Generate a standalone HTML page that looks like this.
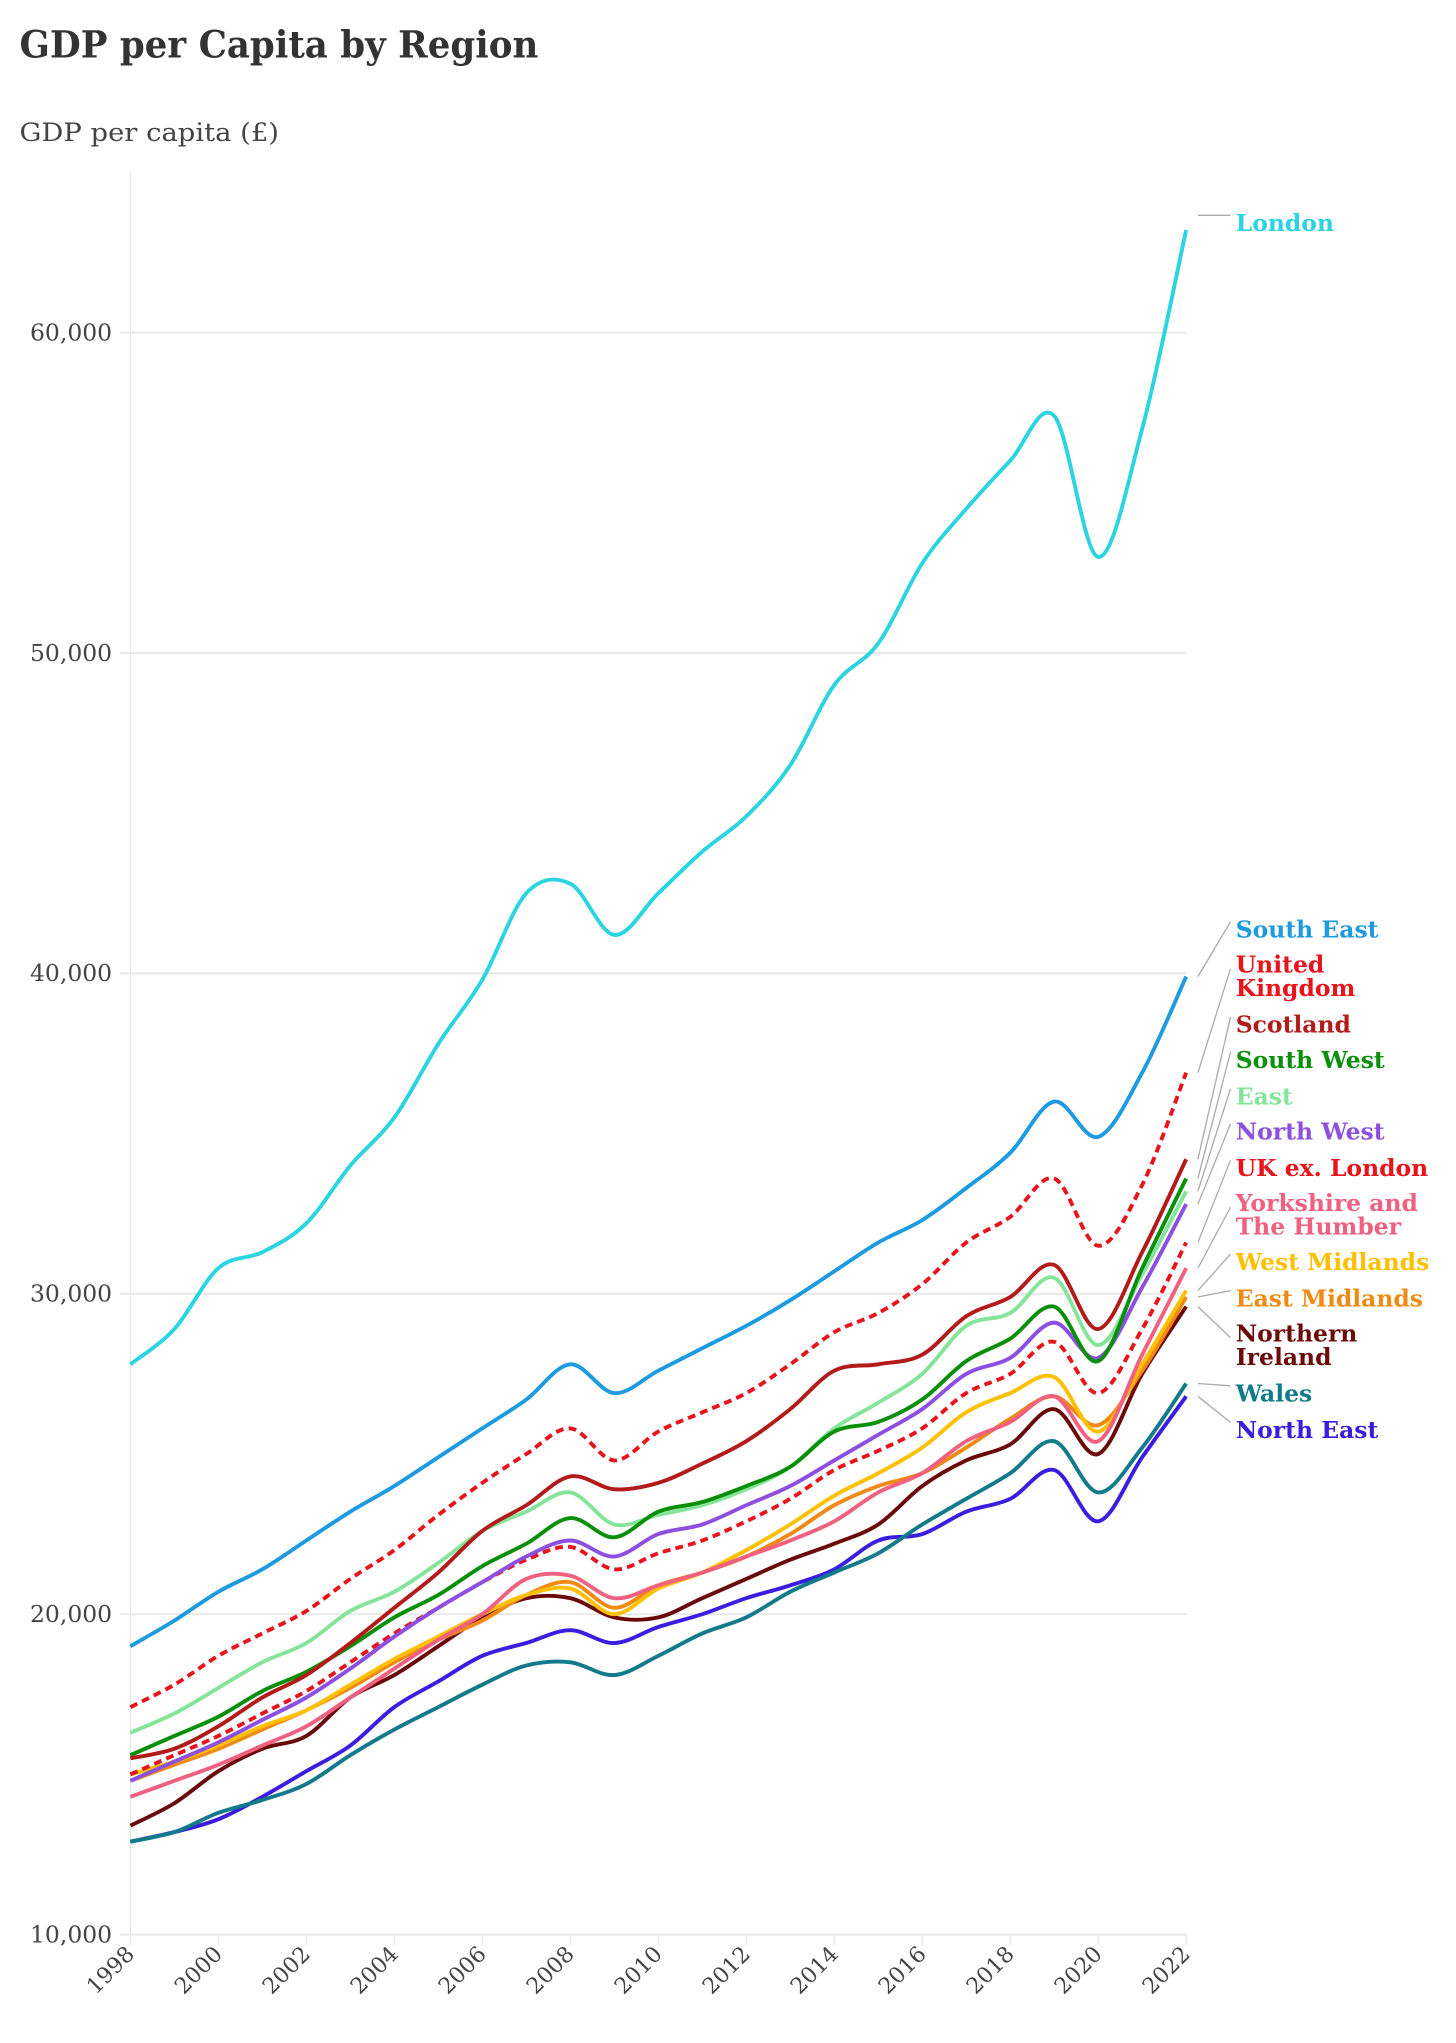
<!DOCTYPE html>
<html><head><meta charset="utf-8"><style>
html,body{margin:0;padding:0;background:#fff;}
svg{display:block;}
text{font-family:"DejaVu Serif","Liberation Serif",serif;}
</style></head><body>
<svg id="chart" width="1456" height="2043" viewBox="0 0 1117 1567" xmlns="http://www.w3.org/2000/svg">
<text x="15" y="44" font-size="29" font-weight="bold" fill="#333" textLength="398" lengthAdjust="spacingAndGlyphs">GDP per Capita by Region</text>
<text x="15" y="108" font-size="19" fill="#444" textLength="199" lengthAdjust="spacingAndGlyphs">GDP per capita (£)</text>
<g id="grid"></g><g id="lines"></g><g id="labels"></g>
</svg>
<script>
const years=[1998,1999,2000,2001,2002,2003,2004,2005,2006,2007,2008,2009,2010,2011,2012,2013,2014,2015,2016,2017,2018,2019,2020,2021,2022];
const yTicks=[10000,20000,30000,40000,50000,60000];
const xTicks=[1998,2000,2002,2004,2006,2008,2010,2012,2014,2016,2018,2020,2022];
const london=[27.8,28.9,30.8,31.3,32.2,34.0,35.5,37.8,39.8,42.5,42.8,41.2,42.5,43.8,44.9,46.5,49.0,50.3,52.8,54.5,56.0,57.4,53.0,57.0,63.2];
const southEast=[19.0,19.8,20.7,21.4,22.3,23.2,24.0,24.9,25.8,26.7,27.8,26.9,27.6,28.3,29.0,29.8,30.7,31.6,32.3,33.3,34.4,36.0,34.9,36.9,39.9];
const uk=[17.1,17.8,18.7,19.4,20.1,21.1,22.0,23.1,24.1,25.0,25.8,24.8,25.7,26.3,26.9,27.8,28.8,29.4,30.3,31.6,32.4,33.6,31.5,33.4,36.9];
const scotland=[15.5,15.8,16.5,17.4,18.1,19.1,20.2,21.3,22.6,23.4,24.3,23.9,24.1,24.7,25.4,26.4,27.6,27.8,28.1,29.3,29.9,30.9,28.9,31.3,34.2];
const southWest=[15.6,16.2,16.8,17.6,18.2,19.0,19.9,20.6,21.5,22.2,23.0,22.4,23.2,23.5,24.0,24.6,25.7,26.0,26.7,27.9,28.6,29.6,27.9,30.8,33.6];
const east=[16.3,16.9,17.7,18.5,19.1,20.1,20.7,21.6,22.6,23.2,23.8,22.8,23.1,23.4,23.9,24.6,25.8,26.6,27.5,29.0,29.4,30.5,28.4,30.6,33.2];
const northWest=[14.8,15.4,16.0,16.7,17.4,18.3,19.3,20.2,21.0,21.8,22.3,21.8,22.5,22.8,23.4,24.0,24.8,25.6,26.4,27.5,28.0,29.1,28.0,30.2,32.8];
const ukExLondon=[15.0,15.6,16.2,16.9,17.6,18.5,19.4,20.2,21.0,21.7,22.1,21.4,21.9,22.3,22.9,23.6,24.5,25.1,25.8,26.9,27.5,28.5,26.9,28.9,31.6];
const yorkshire=[14.3,14.8,15.3,15.9,16.5,17.4,18.3,19.2,20.0,21.1,21.2,20.5,20.9,21.3,21.8,22.3,22.9,23.8,24.4,25.4,26.0,26.8,25.4,28.1,30.8];
const westMidlands=[15.0,15.4,15.9,16.5,17.0,17.8,18.6,19.3,20.0,20.6,20.8,20.0,20.8,21.3,22.0,22.8,23.7,24.4,25.2,26.3,26.9,27.4,25.7,27.8,30.1];
const eastMidlands=[14.8,15.3,15.8,16.4,17.0,17.7,18.5,19.2,19.8,20.6,21.0,20.2,20.9,21.3,21.8,22.5,23.4,24.0,24.4,25.2,26.1,26.8,25.9,27.6,29.9];
const northernIreland=[13.4,14.1,15.1,15.8,16.2,17.4,18.1,19.0,19.9,20.5,20.5,19.9,19.9,20.5,21.1,21.7,22.2,22.8,24.0,24.8,25.3,26.4,25.0,27.5,29.6];
const wales=[12.9,13.2,13.8,14.2,14.7,15.6,16.4,17.1,17.8,18.4,18.5,18.1,18.7,19.4,19.9,20.7,21.3,21.9,22.8,23.6,24.4,25.4,23.8,25.2,27.2];
const northEast=[12.9,13.2,13.6,14.3,15.1,15.9,17.1,17.9,18.7,19.1,19.5,19.1,19.6,20.0,20.5,20.9,21.4,22.3,22.5,23.2,23.6,24.5,22.9,24.9,26.8];

const NS="http://www.w3.org/2000/svg";
const x=yr=>100+(yr-1998)*(810/24);
const y=v=>1484-(v-10000)*(1229/50000);
function mk(tag,attrs,parent){const e=document.createElementNS(NS,tag);for(const k in attrs)e.setAttribute(k,attrs[k]);parent.appendChild(e);return e;}
const grid=document.getElementById('grid'),lines=document.getElementById('lines'),labels=document.getElementById('labels');
mk('line',{x1:100,y1:132,x2:100,y2:1484,stroke:'#e6e6e6','stroke-width':1},grid);
yTicks.forEach(t=>{
 const l=mk('line',{x1:92,x2:910,y1:y(t),y2:y(t),stroke:'#e8e8e8','stroke-width':1.5},grid);
 
 
 const tx=mk('text',{x:86,y:y(t)+6,'text-anchor':'end','font-size':18,fill:'#444'},grid);
 tx.textContent=t.toLocaleString('en-US');
 
 
});
xTicks.forEach(t=>{
 mk('line',{x1:x(t),x2:x(t),y1:1484,y2:1492,stroke:'#e6e6e6','stroke-width':1},grid);
 const tx=mk('text',{x:x(t)+4,y:1500,'text-anchor':'end','font-size':17,fill:'#444',transform:`rotate(-45 ${x(t)+4} 1500)`},grid);
 tx.textContent=t;
 
 
});
function pathD(vals){
 const p=vals.map((v,i)=>[x(years[i]),y(v*1000)]);
 let d=`M${p[0][0]},${p[0][1]}`;
 for(let i=0;i<p.length-1;i++){
  const p0=p[i-1]||p[i],p1=p[i],p2=p[i+1],p3=p[i+2]||p2;
  const c1=[p1[0]+(p2[0]-p0[0])/6,p1[1]+(p2[1]-p0[1])/6];
  const c2=[p2[0]-(p3[0]-p1[0])/6,p2[1]-(p3[1]-p1[1])/6];
  d+=`C${c1[0]},${c1[1]} ${c2[0]},${c2[1]} ${p2[0]},${p2[1]}`;
 }
 return d;
}
const series=[
 ['North East',northEast,'#3a1ee0',false,[1097],'north-east'],
 ['Wales',wales,'#127a8a',false,[1069],'wales'],
 ['Northern Ireland',northernIreland,'#6b0a0a',false,[1023,1041],'northern-ireland'],
 ['East Midlands',eastMidlands,'#f08a14',false,[996],'east-midlands'],
 ['West Midlands',westMidlands,'#ffc000',false,[968],'west-midlands'],
 ['Yorkshire and The Humber',yorkshire,'#f06080',false,[923,941],'yorkshire'],
 ['UK ex. London',ukExLondon,'#e8141c',true,[896],'uk-ex-london'],
 ['North West',northWest,'#8c4fe0',false,[868],'north-west'],
 ['East',east,'#86e49a',false,[841],'east'],
 ['South West',southWest,'#0a8f0a',false,[813],'south-west'],
 ['Scotland',scotland,'#b31b1b',false,[786],'scotland'],
 ['United Kingdom',uk,'#e8141c',true,[740,758],'united-kingdom'],
 ['South East',southEast,'#1e9be0',false,[713],'south-east'],
 ['London',london,'#2bd4e0',false,[171],'london']
];
series.forEach(s=>{
 const [name,vals,col,dash,ly,key]=s;
 const p=mk('path',{d:pathD(vals),fill:'none',stroke:col,'stroke-width':3,'stroke-linejoin':'round'},lines);
 if(dash)p.setAttribute('stroke-dasharray','6 4');
 
 
 const ey=y(vals[vals.length-1]*1000);
 const midY=ly.length>1?(ly[0]+ly[1])/2-6:ly[0]-6;
 const cl=mk('line',{x1:919,y1:key==='london'?midY:ey,x2:944,y2:midY,stroke:'#aaa','stroke-width':1},labels);
 
 
 const parts=ly.length>1?(name==='United Kingdom'?['United','Kingdom']:name==='Northern Ireland'?['Northern','Ireland']:['Yorkshire and','The Humber']):[name];
 parts.forEach((t,i)=>{
  const tx=mk('text',{x:948,y:ly[i]+6,'font-size':18,'font-weight':'bold',fill:col},labels);
  tx.textContent=t;
  
  
 });
});
</script>
</body></html>
